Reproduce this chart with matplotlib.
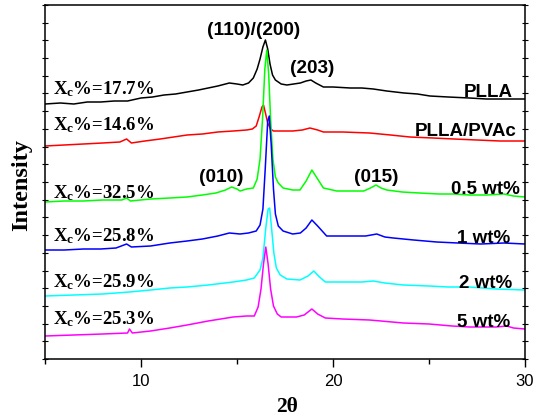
import matplotlib
matplotlib.use("agg")
import matplotlib.pyplot as plt
from matplotlib.ticker import MultipleLocator

# XRD patterns, intensity in arbitrary (offset) units
pll_x = [5.0, 5.8, 6.5, 7.2, 7.9, 8.6, 9.3, 10.0, 10.6, 11.2, 11.8, 12.4, 13.0, 13.5, 14.0, 14.6, 15.0, 15.3,
         15.6, 15.85, 16.05, 16.2, 16.35, 16.48, 16.6, 16.72, 16.85, 17.0, 17.3, 17.6, 17.95, 18.3, 18.6,
         18.85, 19.1, 19.5, 20.0, 20.9, 21.5, 22.1, 22.8, 23.7, 24.4, 25.05, 26.0, 27.1, 28.0, 29.0, 30.0]
pll_y = [255, 256, 255, 257, 257, 258, 258, 261, 262, 264, 265, 267, 269, 271, 273, 276, 275, 274,
         276, 281, 290, 300, 312, 319, 310, 295, 284, 279, 275, 274, 275, 276, 278,
         279, 276, 272, 272, 271, 271, 270, 268, 266, 265, 263, 262, 261, 260, 260, 260]

pvac_x = [5.0, 6.0, 7.0, 8.0, 8.9, 9.25, 9.5, 10.2, 11.0, 11.7, 12.4, 13.2, 14.0, 14.8, 15.5, 15.8, 16.0,
          16.15, 16.3, 16.38, 16.48, 16.6, 16.75, 16.9, 17.4, 17.9, 18.4, 18.8, 19.2, 19.5, 20.5, 21.9,
          23.0, 24.0, 25.2, 26.3, 27.5, 28.7, 30.0]
pvac_y = [213, 214, 215, 216, 217, 220, 216, 218, 220, 222, 224, 225, 227, 228, 229, 230, 233,
          242, 252, 254, 246, 236, 230, 228, 228, 228, 229, 231, 229, 227, 227, 226,
          224, 222, 221, 220, 219, 218, 218]

w05_x = [5.0, 6.0, 7.0, 8.0, 9.0, 9.25, 9.45, 10.5, 11.5, 12.4, 13.2, 13.9, 14.4, 14.72, 15.0, 15.16, 15.5,
         15.85, 16.05, 16.2, 16.33, 16.45, 16.55, 16.65, 16.75, 16.87, 17.0, 17.15, 17.4, 17.9, 18.28,
         18.6, 18.9, 19.2, 19.5, 20.2, 21.0, 21.6, 21.95, 22.24, 22.5, 22.8, 23.6, 24.5, 25.5, 26.3,
         27.1, 28.0, 28.9, 29.4, 30.0]
w05_y = [157, 158, 158, 159, 159, 161, 158, 160, 161, 162, 164, 166, 169, 172, 170, 168, 170,
         171, 180, 200, 240, 290, 309, 285, 240, 200, 182, 176, 171, 169, 169,
         178, 189, 180, 171, 168, 168, 168, 171, 174, 171, 169, 167, 166, 165, 165,
         164, 164, 165, 163, 162]

w1_x = [5.0, 6.0, 7.0, 7.9, 8.7, 9.25, 9.5, 10.5, 11.5, 12.4, 13.2, 14.0, 14.6, 15.16, 15.6, 16.0, 16.2,
        16.35, 16.47, 16.6, 16.68, 16.78, 16.9, 17.0, 17.15, 17.4, 17.9, 18.3, 18.6, 18.9, 19.2, 19.67,
        20.3, 21.06, 21.7, 22.28, 22.7, 23.14, 24.2, 25.4, 26.5, 27.7, 28.9, 30.0]
w1_y = [109, 109, 110, 110, 111, 115, 112, 113, 116, 118, 120, 123, 126, 125, 126, 128, 134,
        150, 190, 238, 243, 215, 170, 145, 133, 128, 125, 126, 131, 139, 133, 123,
        123, 123, 123, 125, 122, 121, 119, 117, 116, 115, 116, 115]

w2_x = [5.0, 6.5, 8.0, 9.4, 10.5, 11.5, 12.4, 13.5, 14.8, 15.5, 15.9, 16.2, 16.35, 16.5, 16.62, 16.7,
        16.8, 16.92, 17.05, 17.25, 17.6, 18.28, 18.7, 19.0, 19.3, 19.6, 20.5, 21.5, 22.1, 22.7, 23.66,
        25.0, 26.0, 27.1, 28.5, 30.0]
w2_y = [63, 64, 65, 67, 69, 71, 72, 74, 77, 79, 81, 89, 101, 131, 150, 151,
        131, 106, 91, 84, 80, 79, 83, 88, 82, 77, 77, 77, 78, 76, 74,
        73, 72, 72, 70, 69]

w5_x = [5.0, 6.5, 8.0, 9.3, 9.4, 9.55, 10.5, 11.5, 12.4, 13.5, 14.8, 15.5, 15.9, 16.1, 16.25, 16.38,
        16.5, 16.62, 16.75, 16.9, 17.1, 17.3, 18.1, 18.5, 18.9, 19.2, 19.6, 20.5, 21.9, 22.5, 23.66,
        25.0, 26.2, 27.1, 28.5, 29.05, 29.4, 30.0]
w5_y = [23, 24, 25, 26, 30, 26, 28, 31, 34, 38, 42, 43, 43, 52, 70, 95,
        112, 95, 70, 53, 45, 42, 42, 44, 50, 45, 41, 40, 39, 38, 36,
        35, 33, 32, 32, 33, 31, 30]

sample_names = ["PLLA", "PLLA/PVAc", "0.5 wt%", "1 wt%", "2 wt%", "5 wt%"]
xc_values = ["17.7", "14.6", "32.5", "25.8", "25.9", "25.3"]
colors = ["black", "#ff0000", "#00ff00", "#0000ff", "#00ffff", "#ff00ff"]

plt.rcParams["mathtext.fontset"] = "custom"
plt.rcParams["mathtext.rm"] = "Liberation Serif:bold"
plt.rcParams["mathtext.it"] = "Liberation Serif:bold"
plt.rcParams["mathtext.bf"] = "Liberation Serif:bold"

fig = plt.figure(figsize=(5.41, 4.19), dpi=100)
ax = fig.add_axes([45 / 541, 60 / 419, 480 / 541, 354 / 419])

curves = [(pll_x, pll_y), (pvac_x, pvac_y), (w05_x, w05_y), (w1_x, w1_y), (w2_x, w2_y), (w5_x, w5_y)]
for (xs, ys), c in zip(curves, colors):
    ax.plot(xs, ys, color=c, lw=1.1)

ax.set_xlim(5, 30)
ax.set_ylim(0, 354)

# X_c labels on the left, sample names on the right
xc_base = [265, 229, 161, 118, 72, 35]
name_x = [29.375, 29.58, 29.74, 29.25, 29.34, 29.22]
name_base = [262, 223, 165, 116, 71, 32]
for xc, yb in zip(xc_values, xc_base):
    ax.text(5.42, yb, r"X$_\mathrm{c}$%=" + xc + "%", fontsize=13.5, family="Liberation Serif",
            weight="bold", va="baseline", ha="left")
for name, xn, yb in zip(sample_names, name_x, name_base):
    ax.text(xn, yb, name, fontsize=13.5, family="Liberation Sans", weight="bold",
            va="baseline", ha="right")

# reflection labels
peak_labels = ["(110)/(200)", "(203)", "(010)", "(015)"]
peak_x = [15.85, 18.92, 14.17, 22.27]
peak_base = [324, 286, 177, 177]
for lab, xp, yb in zip(peak_labels, peak_x, peak_base):
    ax.text(xp, yb, lab, fontsize=13.7, family="Liberation Sans", weight="bold",
            va="baseline", ha="center")

ax.xaxis.set_major_locator(MultipleLocator(10))
ax.xaxis.set_minor_locator(MultipleLocator(5))
ax.yaxis.set_major_locator(MultipleLocator(17.7))
ax.tick_params(axis="x", which="major", direction="out", length=6, width=1, pad=5, labelsize=12)
ax.tick_params(axis="x", which="minor", direction="out", length=3.5, width=1)
ax.tick_params(axis="y", which="major", direction="inout", length=4, width=0.8,
               left=True, right=True, labelleft=False)
for lbl in ax.get_xticklabels():
    lbl.set_family("Liberation Sans")
for sp in ax.spines.values():
    sp.set_linewidth(1.1)

fig.text(22 / 541, 1 - 185 / 419, "Intensity", rotation=90, fontsize=17.5, family="Liberation Serif",
         weight="bold", ha="center", va="center")
fig.text(287.5 / 541, 1 - 407 / 419, "2θ", fontsize=15.5, family="Liberation Serif",
         weight="bold", ha="center", va="center")

fig.savefig("out.png", dpi=100)
